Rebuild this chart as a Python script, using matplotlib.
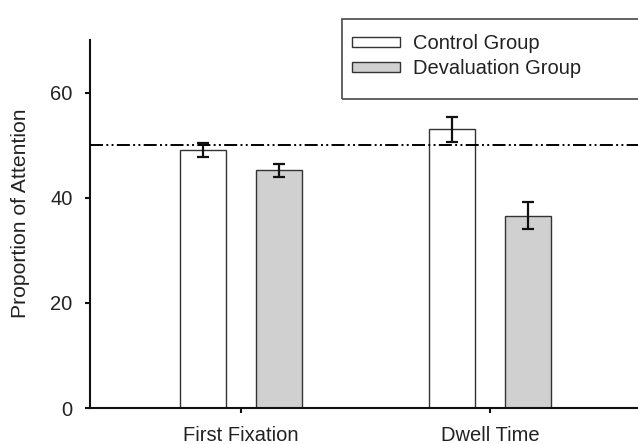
import numpy as np
import matplotlib
matplotlib.use("Agg")
import matplotlib.pyplot as plt
from matplotlib.patches import Rectangle

plt.rcParams['font.family'] = ['Liberation Sans', 'DejaVu Sans']

# data
categories = ["First Fixation", "Dwell Time"]
control_mean = [49.1, 53.0]
control_err = [1.4, 2.4]
deval_mean = [45.2, 36.6]
deval_err = [1.2, 2.5]
chance_level = 50
yticks = [0, 20, 40, 60]

fs = 14.5
fig = plt.figure(figsize=(6.38, 4.44), dpi=100)
ax = fig.add_axes([90/638, 36/444, 548/638, 368/444])

x = np.arange(len(categories))
w = 0.185
off = 0.152

ax.bar(x - off, control_mean, w, color='white', edgecolor='#333333',
       linewidth=1.0, label='Control Group', zorder=2)
ax.bar(x + off, deval_mean, w, color='#d0d0d0', edgecolor='#333333',
       linewidth=1.0, label='Devaluation Group', zorder=2)
ax.errorbar(x - off, control_mean, yerr=control_err, fmt='none', ecolor='#111111',
            elinewidth=1.6, capsize=4, capthick=1.6, zorder=4)
ax.errorbar(x + off, deval_mean, yerr=deval_err, fmt='none', ecolor='#111111',
            elinewidth=1.6, capsize=4, capthick=1.6, zorder=4)

# reference line at 50 (dash-dot-dot)
ax.axhline(chance_level, color='black', linewidth=1.4,
           linestyle=(0, (6.7, 1.7, 1.0, 1.7, 1.0, 1.7)), zorder=3)

ax.set_xlim(-0.606, 1.594)
ax.set_ylim(0, 70)
ax.set_xticks(x)
ax.set_xticklabels(categories)
ax.set_yticks(yticks)

for s in ['top', 'right']:
    ax.spines[s].set_visible(False)
for s in ['left', 'bottom']:
    ax.spines[s].set_linewidth(1.5)
    ax.spines[s].set_color('#111111')

ax.tick_params(axis='both', direction='out', length=3.6, width=1.5,
               labelsize=fs, colors='#111111', labelcolor='#222222')
ax.tick_params(axis='x', pad=9)
ax.tick_params(axis='y', pad=9)

ax.set_ylabel('Proportion of Attention', fontsize=15.2, color='#222222')
ax.yaxis.set_label_coords(-0.11, 0.53)

# legend without its own frame; box drawn as a figure patch (open on the right)
leg = fig.legend(loc='upper left', bbox_to_anchor=(337/638, 1 - 19/444),
                 fontsize=fs, frameon=False,
                 handlelength=2.4, handleheight=0.35, handletextpad=0.6,
                 borderpad=0.75, labelspacing=0.3, borderaxespad=0)
for t in leg.get_texts():
    t.set_color('#222222')
box = Rectangle((342/638, 1 - 99/444), 0.6, 80/444, transform=fig.transFigure,
                fill=False, edgecolor='#555555', linewidth=1.3)
fig.patches.append(box)

fig.savefig('out.png', dpi=100)
